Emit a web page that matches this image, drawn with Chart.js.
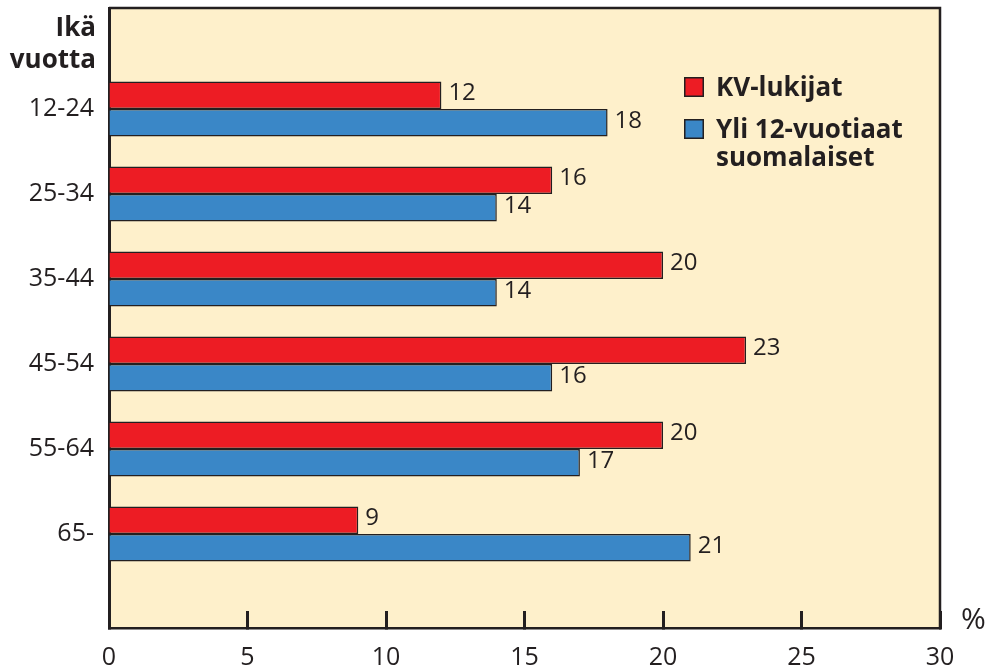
<!DOCTYPE html>
<html>
<head>
<meta charset="utf-8">
<script src="https://cdn.jsdelivr.net/npm/chart.js@4/dist/chart.umd.min.js"></script>
<style>
  html, body { margin: 0; padding: 0; background: #ffffff; }
  #wrap { width: 992px; height: 668px; }
</style>
</head>
<body>
<div id="wrap"><canvas id="c" width="992" height="668"></canvas></div>
<script>
// ---- data ----
const categories = ['12-24', '25-34', '35-44', '45-54', '55-64', '65-'];
const kvLukijat = [12, 16, 20, 23, 20, 9];
const suomalaiset = [18, 14, 14, 16, 17, 21];
const seriesLabels = ['KV-lukijat', 'Yli 12-vuotiaat\nsuomalaiset'];
const xTicks = [0, 5, 10, 15, 20, 25, 30];
const headerLines = ['Ikä', 'vuotta'];
const unitLabel = '%';

const DARK = '#231f20';
const RED = '#ed1c24';
const BLUE = '#3a87c7';
const CREAM = '#fef0cb';
const FONT = '"Open Sans", "Noto Sans", sans-serif';

const toPoints = arr => arr.map((v, i) => ({ x: v, y: i }));

const boxPlugin = {
  id: 'box',
  beforeDraw(chart) {
    const { ctx, chartArea: a } = chart;
    ctx.save();
    ctx.fillStyle = CREAM;
    ctx.fillRect(a.left, a.top, a.right - a.left, a.bottom - a.top);
    ctx.restore();
  },
  afterDraw(chart) {
    const { ctx, chartArea: a } = chart;
    ctx.save();
    ctx.strokeStyle = DARK;
    ctx.lineWidth = 2.5;
    ctx.beginPath();
    ctx.moveTo(a.left, a.top);
    ctx.lineTo(a.right, a.top);
    ctx.lineTo(a.right, a.bottom);
    ctx.stroke();

    // value labels
    ctx.fillStyle = DARK;
    ctx.font = '24px ' + FONT;
    ctx.textAlign = 'left';
    ctx.textBaseline = 'middle';
    chart.data.datasets.forEach((ds, di) => {
      const meta = chart.getDatasetMeta(di);
      meta.data.forEach((el, i) => {
        ctx.fillText(String(ds.data[i].x), el.x + 7, el.y - 2);
      });
    });

    // header
    ctx.font = 'bold 26px ' + FONT;
    ctx.textAlign = 'right';
    ctx.textBaseline = 'alphabetic';
    ctx.fillText(headerLines[0], 96, 36);
    ctx.fillText(headerLines[1], 96, 68);

    // unit
    ctx.font = '30px ' + FONT;
    ctx.textAlign = 'left';
    ctx.fillText(unitLabel, 961, 629);

    // legend
    const colors = [RED, BLUE];
    const tops = [77, 119];
    ctx.font = 'bold 26px ' + FONT;
    chart.data.datasets.forEach((ds, di) => {
      ctx.fillStyle = colors[di];
      ctx.fillRect(684, tops[di], 20, 20);
      ctx.strokeStyle = DARK;
      ctx.lineWidth = 1.5;
      ctx.strokeRect(684.75, tops[di] + 0.75, 18.5, 18.5);
      ctx.fillStyle = DARK;
      ds.label.split('\n').forEach((line, li) => {
        ctx.fillText(line, 716, tops[di] + 19 + li * 28);
      });
    });
    ctx.restore();
  }
};

new Chart(document.getElementById('c'), {
  type: 'bar',
  data: {
    datasets: [
      { label: seriesLabels[0], data: toPoints(kvLukijat), backgroundColor: RED, borderColor: DARK, borderWidth: 1.5 },
      { label: seriesLabels[1], data: toPoints(suomalaiset), backgroundColor: BLUE, borderColor: DARK, borderWidth: 1.5 }
    ]
  },
  options: {
    indexAxis: 'y',
    responsive: false,
    animation: false,
    layout: { padding: { top: 8, right: 52, bottom: 0, left: 0 } },
    datasets: { bar: { categoryPercentage: 0.645, barPercentage: 1.0 } },
    plugins: { legend: { display: false }, tooltip: { enabled: false } },
    scales: {
      x: {
        type: 'linear',
        min: xTicks[0],
        max: xTicks[xTicks.length - 1],
        afterBuildTicks: s => { s.ticks = xTicks.map(v => ({ value: v })); },
        afterFit: s => { s.height = 40; s.paddingLeft = 0; s.paddingRight = 0; },
        ticks: { color: DARK, font: { family: FONT, size: 25 }, padding: 32, maxRotation: 0 },
        grid: { display: true, drawOnChartArea: false, drawTicks: true, tickLength: -17, tickWidth: 3, tickColor: DARK },
        border: { display: true, color: DARK, width: 2.5 }
      },
      y: {
        type: 'linear',
        reverse: true,
        offset: false,
        min: -1.188,
        max: 6.106,
        afterBuildTicks: s => { s.ticks = categories.map((_, i) => ({ value: i })); },
        afterFit: s => { s.width = 109; s.paddingTop = 0; s.paddingBottom = 0; },
        ticks: {
          color: DARK,
          font: { family: FONT, size: 25 },
          padding: 15,
          callback: (v, i) => categories[i]
        },
        grid: { display: false, drawTicks: false },
        border: { display: true, color: DARK, width: 3 }
      }
    }
  },
  plugins: [boxPlugin]
});
</script>
</body>
</html>
